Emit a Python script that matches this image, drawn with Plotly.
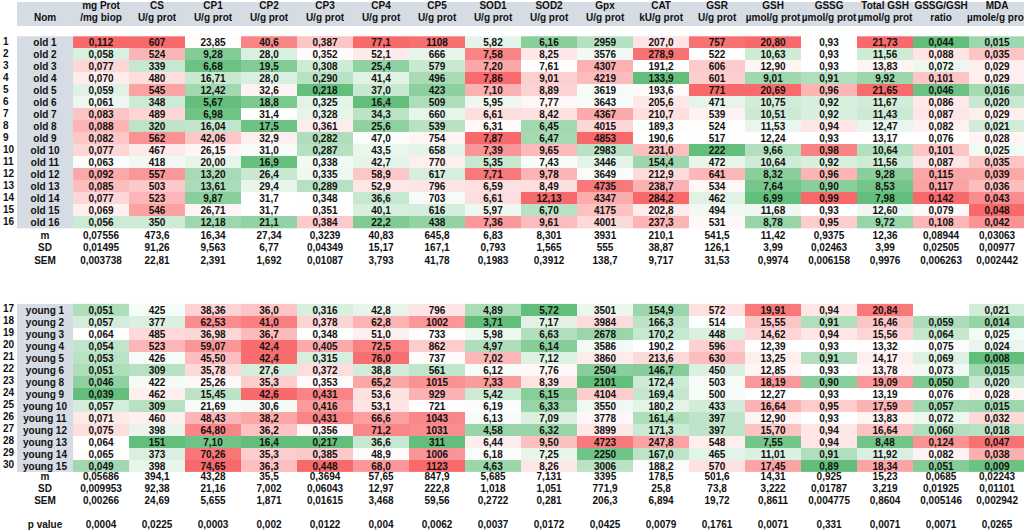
import numpy as np
import plotly.graph_objects as go

# column headers (two lines) and number of decimals shown in the cells
head_top = ["mg Prot", "CS", "CP1", "CP2", "CP3", "CP4", "CP5", "SOD1", "SOD2", "Gpx",
            "CAT", "GSR", "GSH", "GSSG", "Total GSH", "GSSG/GSH", "MDA"]
head_bot = ["/mg biop", "U/g prot", "U/g prot", "U/g prot", "U/g prot", "U/g prot", "U/g prot",
            "U/g prot", "U/g prot", "U/g prot", "kU/g prot", "U/g prot", "µmol/g prot",
            "µmol/g prot", "µmol/g prot", "ratio", "µmole/g prot"]
decimals = [3, 0, 2, 1, 3, 1, 0, 2, 2, 0, 1, 0, 2, 2, 2, 3, 3]

old_num = list(range(1, 17))
old_names = ["old %d" % i for i in range(1, 17)]
young_num = list(range(17, 31))
young_names = ["young 1", "young 2", "young 3", "young 4", "young 5", "young 6", "young 8",
               "young 9", "young 10", "young 11", "young 12", "young 13", "young 14", "young 15"]

# ---- old group
old_mgprot = [0.112, 0.058, 0.077, 0.070, 0.059, 0.061, 0.083, 0.088, 0.082, 0.077, 0.063, 0.092, 0.085, 0.077, 0.069, 0.056]
old_cs = [607, 524, 339, 480, 545, 348, 489, 320, 562, 467, 418, 557, 503, 523, 546, 350]
old_cp1 = [23.85, 9.28, 6.68, 16.71, 12.42, 5.67, 6.98, 16.04, 42.06, 26.15, 20.00, 13.20, 13.61, 9.87, 26.71, 12.18]
old_cp2 = [40.6, 28.0, 19.5, 28.0, 32.6, 18.8, 31.4, 17.5, 32.9, 31.0, 16.9, 26.4, 29.4, 31.7, 31.7, 21.1]
old_cp3 = [0.387, 0.352, 0.308, 0.290, 0.218, 0.325, 0.328, 0.361, 0.282, 0.287, 0.338, 0.335, 0.289, 0.348, 0.351, 0.384]
old_cp4 = [77.1, 52.1, 25.4, 41.4, 37.0, 16.4, 34.3, 25.6, 47.0, 43.5, 42.7, 58.9, 52.9, 36.6, 40.1, 22.2]
old_cp5 = [1108, 666, 579, 496, 423, 509, 660, 539, 754, 658, 770, 617, 796, 703, 616, 438]
old_sod1 = [5.82, 7.58, 7.20, 7.86, 7.10, 5.95, 6.61, 6.31, 7.87, 7.39, 5.35, 7.71, 6.59, 6.61, 5.97, 7.36]
old_sod2 = [6.16, 8.25, 7.61, 9.01, 8.89, 7.77, 8.42, 6.45, 6.47, 9.65, 7.43, 9.78, 8.49, 12.13, 6.70, 9.61]
old_gpx = [2959, 3576, 4307, 4219, 3619, 3643, 4367, 4015, 4853, 2983, 3446, 3649, 4735, 4347, 4175, 4001]
old_cat = [207.0, 278.9, 191.2, 133.9, 193.6, 205.6, 210.7, 189.3, 190.6, 231.0, 154.4, 212.9, 238.7, 284.2, 202.8, 237.3]
old_gsr = [757, 522, 606, 601, 771, 471, 539, 524, 517, 222, 472, 641, 534, 462, 494, 531]
old_gsh = [20.80, 10.63, 12.90, 9.01, 20.69, 10.75, 10.51, 11.53, 12.24, 9.66, 10.64, 8.32, 7.64, 6.99, 11.68, 8.78]
old_gssg = [0.93, 0.93, 0.93, 0.91, 0.96, 0.92, 0.92, 0.94, 0.93, 0.98, 0.92, 0.96, 0.90, 0.99, 0.93, 0.95]
old_total = [21.73, 11.56, 13.83, 9.92, 21.65, 11.67, 11.43, 12.47, 13.17, 10.64, 11.56, 9.28, 8.53, 7.98, 12.60, 9.72]
old_ratio = [0.044, 0.088, 0.072, 0.101, 0.046, 0.086, 0.087, 0.082, 0.076, 0.101, 0.087, 0.115, 0.117, 0.142, 0.079, 0.108]
old_mda = [0.015, 0.035, 0.029, 0.029, 0.016, 0.020, 0.029, 0.021, 0.028, 0.025, 0.035, 0.039, 0.036, 0.043, 0.048, 0.042]

old_m = [0.07556, 473.6, 16.34, 27.34, 0.3239, 40.83, 645.8, 6.83, 8.301, 3931, 210.1, 541.5, 11.42, 0.9375, 12.36, 0.08944, 0.03063]
old_sd = [0.01495, 91.26, 9.563, 6.77, 0.04349, 15.17, 167.1, 0.793, 1.565, 555, 38.87, 126.1, 3.99, 0.02463, 3.99, 0.02505, 0.00977]
old_sem = [0.003738, 22.81, 2.391, 1.692, 0.01087, 3.793, 41.78, 0.1983, 0.3912, 138.7, 9.717, 31.53, 0.9974, 0.006158, 0.9976, 0.006263, 0.002442]

# ---- young group
young_mgprot = [0.051, 0.057, 0.064, 0.054, 0.053, 0.051, 0.046, 0.039, 0.057, 0.071, 0.075, 0.064, 0.065, 0.049]
young_cs = [425, 377, 485, 523, 426, 309, 422, 462, 309, 460, 398, 151, 373, 398]
young_cp1 = [38.36, 62.53, 36.98, 59.07, 45.50, 35.78, 25.26, 15.45, 21.69, 48.43, 64.80, 7.10, 70.26, 74.65]
young_cp2 = [36.0, 41.0, 36.7, 42.4, 42.4, 27.6, 35.3, 42.6, 30.6, 38.2, 36.2, 16.4, 35.3, 36.3]
young_cp3 = [0.316, 0.378, 0.348, 0.405, 0.315, 0.372, 0.353, 0.431, 0.416, 0.431, 0.356, 0.217, 0.385, 0.448]
young_cp4 = [42.8, 62.8, 51.0, 72.5, 76.0, 38.8, 65.2, 53.6, 53.1, 66.6, 71.2, 36.6, 48.9, 68.0]
young_cp5 = [796, 1002, 733, 862, 737, 561, 1015, 929, 721, 1043, 1031, 311, 1006, 1123]
young_sod1 = [4.89, 3.71, 5.98, 4.97, 7.02, 6.12, 7.33, 5.42, 6.19, 6.13, 4.58, 6.44, 6.18, 4.63]
young_sod2 = [5.72, 7.17, 6.63, 6.14, 7.12, 7.76, 8.39, 6.15, 6.33, 7.09, 6.32, 9.50, 7.25, 8.26]
young_gpx = [3501, 3984, 2678, 3586, 3860, 2504, 2101, 4104, 3550, 3778, 3899, 4723, 2250, 3006]
young_cat = [154.9, 166.3, 170.2, 190.2, 213.6, 146.7, 172.4, 169.4, 180.2, 161.4, 171.3, 247.8, 167.0, 188.2]
young_gsr = [572, 514, 448, 596, 630, 450, 503, 500, 433, 397, 397, 548, 465, 570]
young_gsh = [19.91, 15.55, 14.62, 12.39, 13.25, 12.85, 18.19, 12.27, 16.64, 12.90, 15.70, 7.55, 11.01, 17.45]
young_gssg = [0.94, 0.91, 0.94, 0.93, 0.91, 0.93, 0.90, 0.93, 0.95, 0.93, 0.94, 0.94, 0.91, 0.89]
young_total = [20.84, 16.46, 15.56, 13.32, 14.17, 13.78, 19.09, 13.19, 17.59, 13.83, 16.64, 8.48, 11.92, 18.34]
young_ratio = [None, 0.059, 0.064, 0.075, 0.069, 0.073, 0.050, 0.076, 0.057, 0.072, 0.060, 0.124, 0.082, 0.051]
young_mda = [0.021, 0.014, 0.025, 0.024, 0.008, 0.015, 0.020, 0.028, 0.015, 0.032, 0.018, 0.047, 0.038, 0.009]

young_m = [0.05686, 394.1, 43.28, 35.5, 0.3694, 57.65, 847.9, 5.685, 7.131, 3395, 178.5, 501.6, 14.31, 0.925, 15.23, 0.0685, 0.02243]
young_sd = [0.009953, 92.38, 21.16, 7.002, 0.06043, 12.97, 222.8, 1.018, 1.051, 771.9, 25.8, 73.8, 3.222, 0.01787, 3.219, 0.01925, 0.01101]
young_sem = [0.00266, 24.69, 5.655, 1.871, 0.01615, 3.468, 59.56, 0.2722, 0.281, 206.3, 6.894, 19.72, 0.8611, 0.004775, 0.8604, 0.005146, 0.002942]
p_value = [0.0004, 0.0225, 0.0003, 0.002, 0.0122, 0.004, 0.0062, 0.0037, 0.0172, 0.0425, 0.0079, 0.1761, 0.0071, 0.331, 0.0071, 0.0071, 0.0265]

old_cols = [old_mgprot, old_cs, old_cp1, old_cp2, old_cp3, old_cp4, old_cp5, old_sod1, old_sod2,
            old_gpx, old_cat, old_gsr, old_gsh, old_gssg, old_total, old_ratio, old_mda]
young_cols = [young_mgprot, young_cs, young_cp1, young_cp2, young_cp3, young_cp4, young_cp5, young_sod1,
              young_sod2, young_gpx, young_cat, young_gsr, young_gsh, young_gssg, young_total, young_ratio, young_mda]

FONT = "Liberation Sans, Arial, sans-serif"
GRAY = "#D6DCE4"


def fmt(v, d):
    if v is None:
        return ""
    return f"{v:.{d}f}".replace(".", ",")


def fmt_stat(v):
    return str(v).replace(".", ",")


# excel-like 3 colour scale (min / median / max) per column, over both groups
n_old, n_young = len(old_num), len(young_num)
z_old = np.full((n_old, 17), np.nan)
z_young = np.full((n_young, 17), np.nan)
for k in range(17):
    v = np.array([np.nan if x is None else x for x in old_cols[k] + young_cols[k]], float)
    ok = v[~np.isnan(v)]
    lo, med, hi = ok.min(), np.median(ok), ok.max()
    z = np.where(v <= med, 0.5 * (v - lo) / (med - lo), 0.5 + 0.5 * (v - med) / (hi - med))
    z_old[:, k] = z[:n_old]
    z_young[:, k] = z[n_old:]

t_old = [[fmt(old_cols[k][i], decimals[k]) for k in range(17)] for i in range(n_old)]
t_young = [[fmt(young_cols[k][i], decimals[k]) for k in range(17)] for i in range(n_young)]

xcols = list(range(1, 18))
y_old = [float(i) for i in range(1, n_old + 1)]
y_young = [23.3 + i for i in range(n_young)]
y_old_stats = [17.15, 18.2, 19.25]
y_young_stats = [37.28, 38.25, 39.23, 41.28]

scale = [[0, "#63BE7B"], [0.5, "#FFFFFF"], [1, "#F8696B"]]
tf = dict(family=FONT, size=10, color="#111111", weight="bold")

fig = go.Figure()

for y, z, t in [(y_old, z_old, t_old), (y_young, z_young, t_young)]:
    fig.add_trace(go.Heatmap(x=xcols, y=y, z=z, text=t, texttemplate="%{text}", textfont=tf,
                             colorscale=scale, zmin=0, zmax=1, showscale=False, hoverinfo="skip"))

# gray "Nom" column
for y, names in [(y_old, old_names), (y_young, young_names)]:
    fig.add_trace(go.Heatmap(x=[0], y=y, z=[[0] for _ in y], text=[[s] for s in names],
                             texttemplate="%{text}", textfont=tf,
                             colorscale=[[0, GRAY], [1, GRAY]], showscale=False, hoverinfo="skip"))

# row numbers
fig.add_trace(go.Scatter(x=[-0.751] * (n_old + n_young), y=y_old + y_young,
                         text=[str(n) for n in old_num + young_num], mode="text",
                         textposition="middle right", textfont=tf, hoverinfo="skip"))

# statistics rows
stat_rows = [("m", old_m), ("SD", old_sd), ("SEM", old_sem)]
for yy, (lab, vals) in zip(y_old_stats, stat_rows):
    fig.add_trace(go.Scatter(x=[0] + xcols, y=[yy] * 18, text=[lab] + [fmt_stat(v) for v in vals],
                             mode="text", textfont=tf, hoverinfo="skip"))
stat_rows = [("m", young_m), ("SD", young_sd), ("SEM", young_sem), ("p value", p_value)]
for yy, (lab, vals) in zip(y_young_stats, stat_rows):
    fig.add_trace(go.Scatter(x=[0] + xcols, y=[yy] * 18, text=[lab] + [fmt_stat(v) for v in vals],
                             mode="text", textfont=tf, hoverinfo="skip"))

# header band
fig.add_shape(type="rect", x0=-0.5, x1=17.5, y0=-2.36, y1=-0.36, fillcolor=GRAY,
              line_width=0, layer="below")
fig.add_trace(go.Scatter(x=xcols, y=[-1.97] * 17, text=head_top, mode="text", textfont=tf, hoverinfo="skip"))
fig.add_trace(go.Scatter(x=[0] + xcols, y=[-0.95] * 18, text=["Nom"] + head_bot, mode="text",
                         textfont=tf, hoverinfo="skip"))

fig.update_xaxes(range=[-0.804, 17.48], visible=False, fixedrange=True)
fig.update_yaxes(range=[41.81, -2.525], visible=False, fixedrange=True)
fig.update_layout(width=1024, height=532, margin=dict(l=0, r=0, t=0, b=0),
                  plot_bgcolor="white", paper_bgcolor="white", showlegend=False,
                  font=dict(family=FONT))

fig.write_html("out.html", config={"displayModeBar": False},
               post_script="document.body.style.margin='0';document.body.style.overflow='hidden';")
